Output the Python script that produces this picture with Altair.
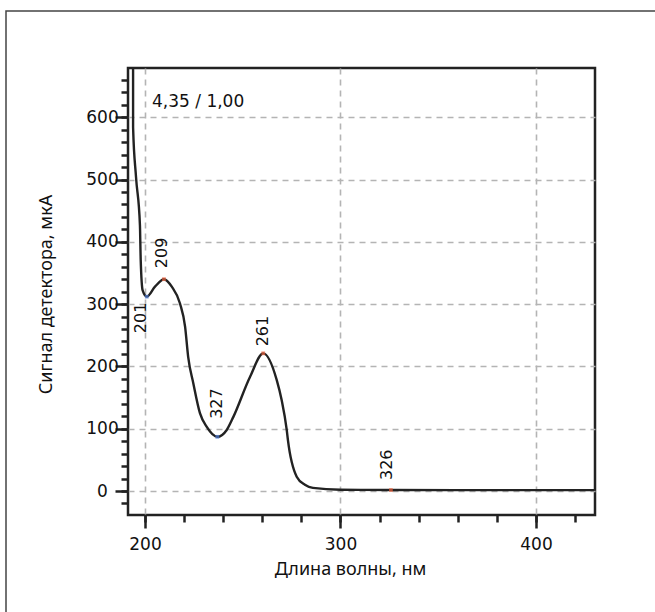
import altair as alt
import pandas as pd

# Spectrum curve (wavelength, nm / detector signal, mkA)
wl = [192.5, 193.9, 193.9, 195.4, 197.4, 197.8, 198.8, 200.9, 205.1, 209.7,
      213.7, 217.9, 220.5, 222.1, 224.7, 228.1, 231.6, 237.0, 241.8, 245.2,
      253.7, 260.5, 267.4, 269.9, 272.5, 273.1, 277.6, 281.8, 285.9, 300.0,
      325.8, 360.0, 400.0, 430.0]
sig = [760, 675, 584, 504, 427, 371, 322, 312, 328, 340,
       328, 301, 264, 215, 173, 125, 103, 87, 98, 119,
       183, 221, 178, 146, 98, 82, 23, 10, 5, 2,
       1.6, 1.5, 1.5, 1.5]

# Marked extrema
mark_text = ["201", "209", "327", "261", "326"]
mark_wl = [200.9, 209.7, 237.0, 260.5, 325.8]
mark_sig = [312, 340, 87, 221, 1.6]
mark_kind = ["min", "max", "min", "max", "max"]

x_major = [200, 300, 400]
x_minor = list(range(200, 431, 20))
y_major = [0, 100, 200, 300, 400, 500, 600]
y_minor = list(range(-20, 680, 20))

W, H = 467, 447
XDOM = [191.3, 430.2]
YDOM = [-38.5, 679]

curve = pd.DataFrame({"wl": wl, "sig": sig})
marks = pd.DataFrame({"t": mark_text, "wl": mark_wl, "sig": mark_sig, "k": mark_kind})

TICKFONT = "DejaVu Sans"
TITLEFONT = "Noto Sans"

xs = alt.Scale(domain=XDOM, nice=False, zero=False)
ys = alt.Scale(domain=YDOM, nice=False, zero=False)

x_major_axis = alt.Axis(values=x_major, orient="bottom", grid=True, gridDash=[6, 5],
                        gridColor="#b4b4b4", gridWidth=1.6, tickSize=13, tickWidth=2.5,
                        tickColor="#222", domain=False, labelFont=TICKFONT, labelFontSize=17,
                        labelColor="#111", labelPadding=8, title="Длина волны, нм",
                        titleFont=TITLEFONT, titleFontSize=18, titleFontWeight="normal",
                        titleColor="#111", titleBaseline="top", titleY=45, titleX=222)
y_major_axis = alt.Axis(values=y_major, orient="left", grid=True, gridDash=[6, 5],
                        gridColor="#b4b4b4", gridWidth=1.6, tickSize=13, tickWidth=2.5,
                        tickColor="#222", domain=False, labelFont=TICKFONT, labelFontSize=17,
                        labelColor="#111", labelAlign="center", labelPadding=13,
                        title="Сигнал детектора, мкА",
                        titleFont=TITLEFONT, titleFontSize=18, titleFontWeight="normal",
                        titleColor="#111", titleAngle=270, titleBaseline="middle",
                        titleAlign="center", titleX=-82, titleY=226)

x_minor_axis = alt.Axis(values=x_minor, orient="bottom", grid=False, tickSize=7,
                        tickWidth=2.5, tickColor="#222", domain=False, labels=False, title=None)
y_minor_axis = alt.Axis(values=y_minor, orient="left", grid=False, tickSize=7,
                        tickWidth=2.5, tickColor="#222", domain=False, labels=False, title=None)

line = alt.Chart(curve).mark_line(color="#222", strokeWidth=2.4, clip=True,
                                  interpolate="monotone").encode(
    x=alt.X("wl:Q", scale=xs, axis=x_major_axis),
    y=alt.Y("sig:Q", scale=ys, axis=y_major_axis),
)

minor = alt.Chart(curve).mark_point(opacity=0).encode(
    x=alt.X("wl:Q", scale=xs, axis=x_minor_axis),
    y=alt.Y("sig:Q", scale=ys, axis=y_minor_axis),
)

pts = alt.Chart(marks).mark_square(size=14).encode(
    x=alt.X("wl:Q", scale=xs, axis=None),
    y=alt.Y("sig:Q", scale=ys, axis=None),
    color=alt.Color("k:N", scale=alt.Scale(domain=["min", "max"], range=["#4a78d0", "#e8603c"]),
                    legend=None),
)

# per-label offsets in the rotated frame (dx: up, dy: right)
label_style = {
    "201": dict(align="right", dx=-6, dy=-6),
    "209": dict(align="left", dx=11, dy=-1.5),
    "327": dict(align="left", dx=18, dy=0),
    "261": dict(align="left", dx=7, dy=0),
    "326": dict(align="left", dx=10, dy=-3.5),
}
label_layers = []
for t in mark_text:
    st = label_style[t]
    label_layers.append(
        alt.Chart(marks).transform_filter(alt.datum.t == t).mark_text(
            angle=270, baseline="middle", font=TICKFONT, fontSize=16, color="#111", **st
        ).encode(x=alt.X("wl:Q", scale=xs, axis=None),
                 y=alt.Y("sig:Q", scale=ys, axis=None), text="t:N")
    )

note = alt.Chart(alt.Data(values=[{"s": "4,35 / 1,00"}])).mark_text(
    align="left", baseline="middle", font=TICKFONT, fontSize=17, color="#111"
).encode(x=alt.value(24), y=alt.value(34), text="s:N")

frame = alt.Chart(alt.Data(values=[{}])).mark_rect(
    fillOpacity=0, stroke="#444", strokeWidth=1.5
).encode(x=alt.value(-122), x2=alt.value(700), y=alt.value(-57), y2=alt.value(700))

chart = alt.layer(minor, line, pts, *label_layers, note, frame).resolve_axis(
    x="independent", y="independent"
).properties(
    width=W, height=H,
    autosize=alt.AutoSizeParams(type="none"),
    padding={"left": 128, "top": 68, "right": 60, "bottom": 97},
    background="white",
).configure_view(stroke="#222", strokeWidth=2.5)

chart.save("out.html", embed_options={"renderer": "svg", "actions": False})
